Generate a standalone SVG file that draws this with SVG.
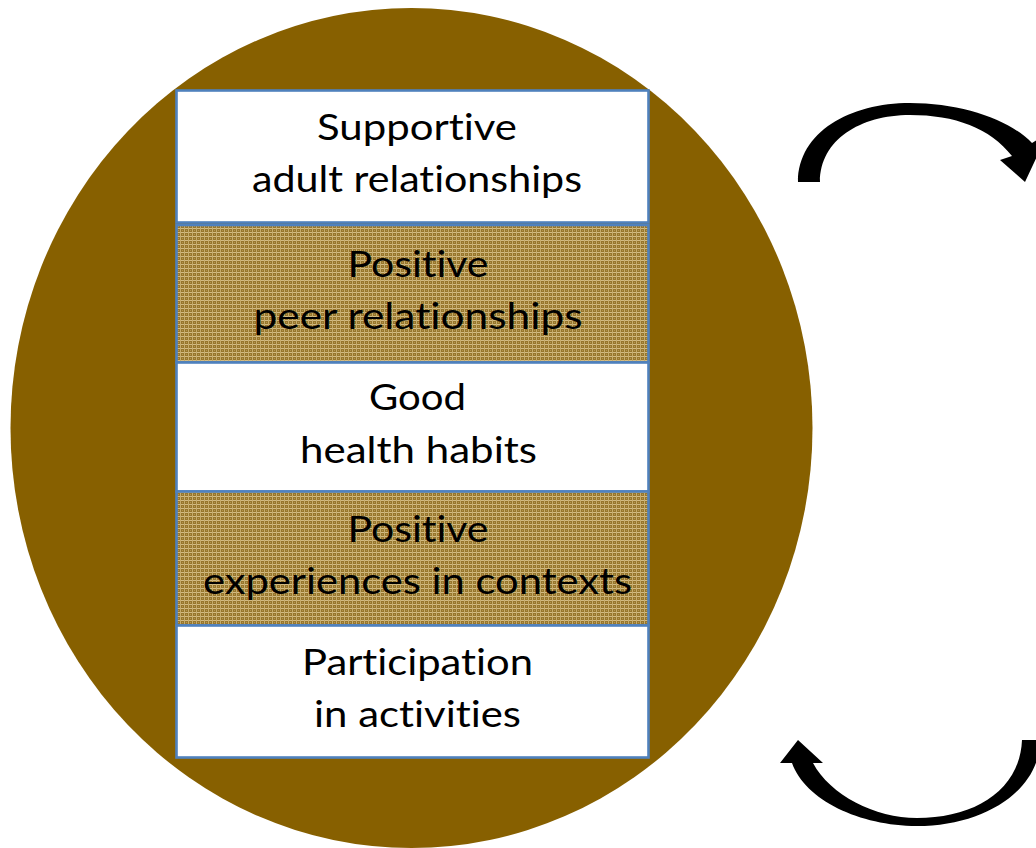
<svg xmlns="http://www.w3.org/2000/svg" width="1036" height="848" viewBox="0 0 1036 848">
  <style>
    .box { stroke: #4F81BD; stroke-width: 2.6; }
    .white { fill: #FFFFFF; }
    .tex { fill: url(#weave); }
    .lbl { font-family: Lato, "Open Sans", "Liberation Sans", sans-serif; font-size: 37px; fill: #000000; text-anchor: middle; font-variant-ligatures: none; font-feature-settings: "liga" 0, "clig" 0; }
    .arrow { fill: #000000; stroke: none; }
  </style>
  <defs>
    <pattern id="weave" x="0" y="0" width="4" height="4" patternUnits="userSpaceOnUse">
      <rect x="0" y="0" width="4" height="4" fill="#97762C"/>
      <rect x="0" y="0" width="4" height="1" fill="#D2BB84"/>
      <rect x="0" y="0" width="1" height="4" fill="#C6AC6C"/>
      <rect x="2" y="2" width="1" height="1" fill="#B39550"/>
    </pattern>
  </defs>
  <rect x="0" y="0" width="1036" height="848" fill="#FFFFFF"/>
  <g id="circle">
    <ellipse cx="411.5" cy="428" rx="401" ry="420" fill="#876000"/>
  </g>
  <g id="node-supportive">
    <rect class="box white" x="176.5" y="90.5" width="472" height="132"/>
    <text class="lbl" x="417" y="139.5" textLength="200" lengthAdjust="spacingAndGlyphs">Supportive</text>
    <text class="lbl" x="417" y="192" textLength="330" lengthAdjust="spacingAndGlyphs">adult relationships</text>
  </g>
  <g id="node-peer">
    <rect class="box tex" x="176.5" y="225" width="472" height="137.5"/>
    <text class="lbl" x="418" y="276.5" textLength="141" lengthAdjust="spacingAndGlyphs">Positive</text>
    <text class="lbl" x="418" y="329" textLength="329" lengthAdjust="spacingAndGlyphs">peer relationships</text>
  </g>
  <g id="node-health">
    <rect class="box white" x="176.5" y="362.5" width="472" height="129"/>
    <text class="lbl" x="417.5" y="410" textLength="97" lengthAdjust="spacingAndGlyphs">Good</text>
    <text class="lbl" x="418.5" y="462.5" textLength="237" lengthAdjust="spacingAndGlyphs">health habits</text>
  </g>
  <g id="node-contexts">
    <rect class="box tex" x="176.5" y="491.5" width="472" height="134"/>
    <text class="lbl" x="418" y="541.5" textLength="141" lengthAdjust="spacingAndGlyphs">Positive</text>
    <text class="lbl" x="417.5" y="594" textLength="429" lengthAdjust="spacingAndGlyphs">experiences in contexts</text>
  </g>
  <g id="node-participation">
    <rect class="box white" x="176.5" y="625.5" width="472" height="132"/>
    <text class="lbl" x="417.5" y="674.5" textLength="231" lengthAdjust="spacingAndGlyphs">Participation</text>
    <text class="lbl" x="417.5" y="727" textLength="207" lengthAdjust="spacingAndGlyphs">in activities</text>
  </g>
  <g id="connectors">
    <path class="arrow" d="M798,182 C798,132 850,103 910,103 C962,103 1010,120 1032,143 L1048,133 L1025,182 L1000,160 L1012,156 C990,128 955,115 910,115 C860,115 820,140 820,182 Z"/>
    <path class="arrow" d="M1022,740 L1040,740 C1040,790 985,826 917,826 C860,826 805,800 792,763 L780,763 L798,740 L823,763 L813,763 C830,795 875,818 917,818 C975,818 1020,790 1022,740 Z"/>
  </g>
</svg>
